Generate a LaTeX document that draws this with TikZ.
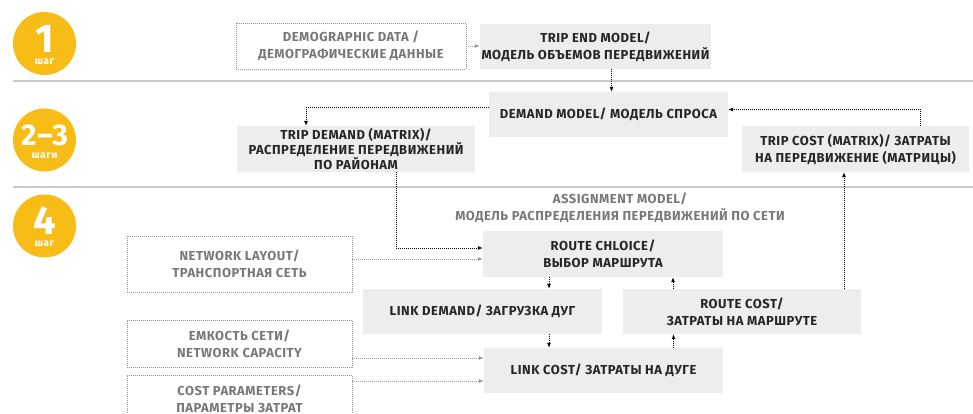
\documentclass[tikz,border=0pt]{standalone}
\usepackage{fontspec}
\setmainfont{Fira Sans}[LetterSpace=4]
\usetikzlibrary{positioning,arrows.meta}
\definecolor{stepyellow}{HTML}{F7BD16}
\definecolor{boxgray}{HTML}{EDEDED}
\definecolor{txtdark}{HTML}{262626}
\definecolor{txtgray}{HTML}{787878}
\definecolor{rulegray}{HTML}{C9C9C9}

\begin{document}
\begin{tikzpicture}[x=1pt, y=-1pt, >={Latex[length=5pt,width=4pt]},
    every node/.style={font=\fontsize{13}{17}\selectfont\bfseries, align=center},
    model/.style={fill=boxgray, text=txtdark, minimum width=239pt, minimum height=45pt, inner sep=0pt},
    data/.style={draw=txtgray!80, dash pattern=on 1pt off 1pt, text=txtgray, minimum width=225pt, minimum height=47pt, inner sep=0pt},
    flow/.style={->, black, dash pattern=on 1pt off 1pt, line width=0.8pt},
    feed/.style={->, gray!80, dash pattern=on 1pt off 1pt, line width=0.8pt},
    stepcircle/.style={circle, fill=stepyellow, minimum size=63pt, inner sep=0pt},
    stepnum/.style={text=white, inner sep=0pt, anchor=base, text depth=0pt, font=\fontsize{40}{40}\selectfont\bfseries},
    steplabel/.style={text=white, inner sep=0pt, anchor=base, text height=5pt, font=\fontsize{10.5}{10.5}\selectfont\bfseries}]
            \clip (0,0) rectangle (973,414);

            % Step circles and separators
            \node[stepcircle] (c1) at (44.5,43.5) {};
            \node[stepnum] (n1) at ([yshift=-9pt]c1.center) {1};
            \node[steplabel] (l1) at ([yshift=-21pt]c1.center) {шаг};
            \node[stepcircle] (c23) at (44.5,140) {};
            \node[stepnum, font=\fontsize{30}{30}\selectfont\bfseries] (n23) at ([yshift=-6pt]c23.center) {2--3};
            \node[steplabel] (l23) at ([yshift=-19pt]c23.center) {шаги};
            \node[stepcircle] (c4) at (44.5,226) {};
            \node[stepnum] (n4) at ([yshift=-8pt]c4.center) {4};
            \node[steplabel] (l4) at ([yshift=-20pt]c4.center) {шаг};
            \draw[rulegray, line width=2pt] (13,81) -- (973,81);
            \draw[rulegray, line width=2pt] (13,187) -- (973,187);

            % Step 1
            \node[data, minimum width=230pt, minimum height=46pt] (demo) at (351,46) {DEMOGRAPHIC DATA /\\ДЕМОГРАФИЧЕСКИЕ ДАННЫЕ};
            \node[model, minimum width=231pt] (tripend) at (595.5,46.5) {TRIP END MODEL/\\МОДЕЛЬ ОБЪЕМОВ ПЕРЕДВИЖЕНИЙ};
            \draw[feed] (demo.east) -- (demo.east -| tripend.west);

            % Steps 2-3
            \node[model] (demand) at (608.5,114.5) {DEMAND MODEL/ МОДЕЛЬ СПРОСА};
            \node[model, minimum width=238pt, minimum height=46pt, font=\fontsize{13}{15}\selectfont\bfseries] (tripdemand) at (356,149) {TRIP DEMAND (MATRIX)/\\РАСПРЕДЕЛЕНИЕ ПЕРЕДВИЖЕНИЙ\\ПО РАЙОНАМ};
            \node[model, minimum width=227pt, minimum height=46pt] (tripcost) at (855.5,149) {TRIP COST (MATRIX)/ ЗАТРАТЫ\\НА ПЕРЕДВИЖЕНИЕ (МАТРИЦЫ)};
            \draw[flow] ([xshift=16pt]tripend.south) -- ([xshift=16pt]tripend.south |- demand.north);
            \draw[flow] ([yshift=7pt]demand.west) -| ([xshift=-50pt]tripdemand.north);
            \draw[flow] ([xshift=65pt]tripcost.north) |- ([yshift=5pt]demand.east);

            % Step 4
            \node[text=txtgray] (assign) at (620,208) {ASSIGNMENT MODEL/\\МОДЕЛЬ РАСПРЕДЕЛЕНИЯ ПЕРЕДВИЖЕНИЙ ПО СЕТИ};
            \node[model, minimum width=240pt, minimum height=46pt] (route) at (603,254) {ROUTE CHLOICE/\\ВЫБОР МАРШРУТА};
            \node[model] (linkdemand) at (482.5,311.5) {LINK DEMAND/ ЗАГРУЗКА ДУГ};
            \node[model, minimum width=238pt] (routecost) at (742,311.5) {ROUTE COST/\\ЗАТРАТЫ НА МАРШРУТЕ};
            \node[model] (linkcost) at (603.5,370.5) {LINK COST/ ЗАТРАТЫ НА ДУГЕ};
            \node[data, minimum height=56pt] (layout) at (239.5,264) {NETWORK LAYOUT/\\ТРАНСПОРТНАЯ СЕТЬ};
            \node[data] (capacity) at (239.5,343.5) {ЕМКОСТЬ СЕТИ/\\NETWORK CAPACITY};
            \node[data] (costpar) at (239.5,398.5) {COST PARAMETERS/\\ПАРАМЕТРЫ ЗАТРАТ};

            % Inputs
            \draw[flow] ([xshift=40pt]tripdemand.south) |- ([yshift=6pt]route.west);
            \draw[feed] ([yshift=5pt]layout.east) -- ([yshift=5pt]layout.east -| route.west);
            \draw[feed] ([yshift=-14.5pt]capacity.east) -- ([yshift=-14.5pt]capacity.east -| linkcost.west);
            \draw[feed] ([yshift=17.5pt]costpar.east) -- ([yshift=17.5pt]costpar.east -| linkcost.west);

            % Assignment loop
            \draw[flow] ([xshift=-54pt]route.south) -- ([xshift=-54pt]route.south |- linkdemand.north);
            \draw[flow] ([xshift=-54.5pt]linkcost.north |- linkdemand.south) -- ([xshift=-54.5pt]linkcost.north);
            \draw[flow] ([xshift=70pt]linkcost.north) -- ([xshift=70pt]linkcost.north |- routecost.south);
            \draw[flow] ([xshift=70pt]route.south |- routecost.north) -- ([xshift=70pt]route.south);
            \draw[flow] ([xshift=102pt]routecost.north) -- ([xshift=102pt]routecost.north |- tripcost.south);
        \end{tikzpicture}
\end{document}
